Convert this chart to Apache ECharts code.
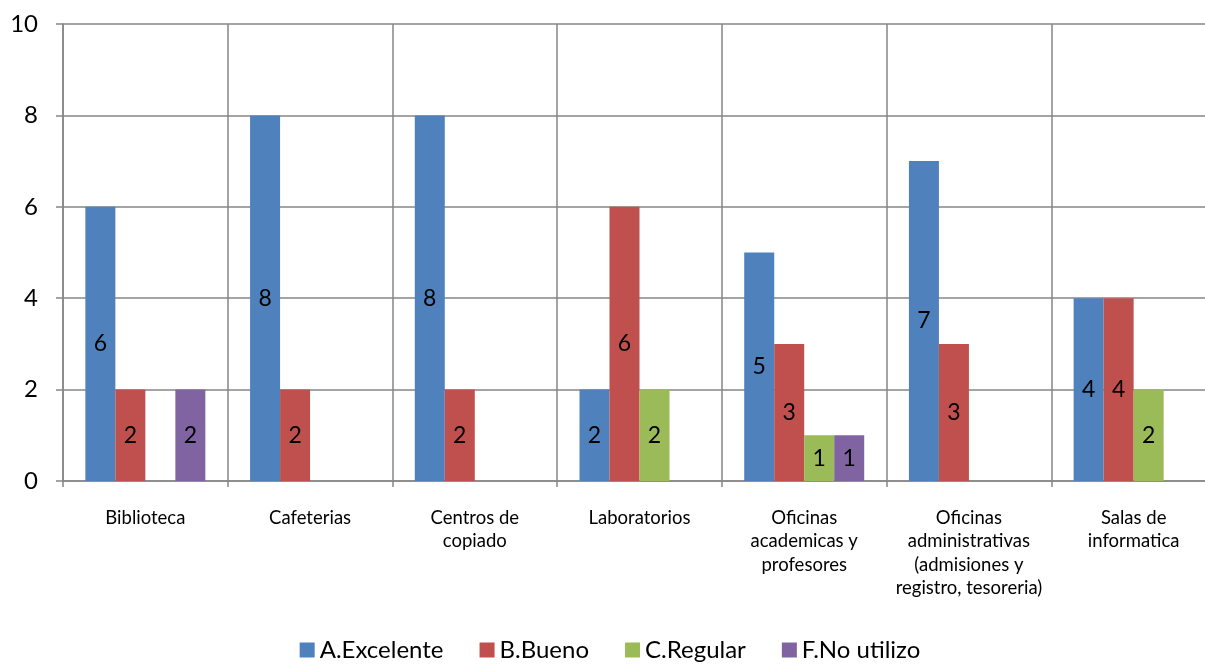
<!DOCTYPE html>
<html>
<head>
<meta charset="utf-8">
<script src="https://cdn.jsdelivr.net/npm/echarts@6/dist/echarts.min.js"></script>
<style>html,body{margin:0;padding:0;background:#fff;overflow:hidden;}#c{width:1220px;height:665px;}</style>
</head>
<body>
<div id="c"></div>
<script>
const categories = [
  "Biblioteca",
  "Cafeterias",
  "Centros de\ncopiado",
  "Laboratorios",
  "Oficinas\nacademicas y\nprofesores",
  "Oficinas\nadministrativas\n(admisiones y\nregistro, tesoreria)",
  "Salas de\ninformatica"
];
const seriesNames = ["A.Excelente", "B.Bueno", "C.Regular", "F.No utilizo"];
const excelente = [6, 8, 8, 2, 5, 7, 4];
const bueno = [2, 2, 2, 6, 3, 3, 4];
const regular = [0, 0, 0, 2, 1, 0, 2];
const noUtilizo = [2, 0, 0, 0, 1, 0, 0];
const yTicks = [0, 2, 4, 6, 8, 10];
const colors = ["#4F81BD", "#C0504D", "#9BBB59", "#8064A2"];

const font = "Lato, 'Liberation Sans', sans-serif";
const allData = [excelente, bueno, regular, noUtilizo];

const chart = echarts.init(document.getElementById('c'));
chart.setOption({
  animation: false,
  color: colors,
  textStyle: { fontFamily: font },
  grid: { left: 63, right: 4, top: 24, bottom: 184, containLabel: false },
  legend: {
    top: 633,
    left: 'center',
    icon: 'rect',
    itemWidth: 15,
    itemHeight: 15,
    itemGap: 36,
    textStyle: { fontSize: 24, color: '#000', fontFamily: font },
    data: seriesNames
  },
  xAxis: {
    type: 'category',
    data: categories,
    axisLine: { lineStyle: { color: '#868686', width: 1.5 } },
    axisTick: { show: true, length: 6, lineStyle: { color: '#868686', width: 1.5 } },
    splitLine: { show: true, lineStyle: { color: '#868686', width: 1.5 } },
    axisLabel: { color: '#000', fontSize: 18.5, lineHeight: 23.5, margin: 25, interval: 0, fontFamily: font }
  },
  yAxis: {
    type: 'value',
    min: yTicks[0],
    max: yTicks[yTicks.length - 1],
    interval: 2,
    axisLine: { show: true, lineStyle: { color: '#868686', width: 1.5 } },
    axisTick: { show: true, length: 7, lineStyle: { color: '#868686', width: 1.5 } },
    splitLine: { show: true, lineStyle: { color: '#868686', width: 1.5 } },
    axisLabel: { color: '#000', fontSize: 24, margin: 25, fontFamily: font }
  },
  series: seriesNames.map((name, i) => ({
    name: name,
    type: 'bar',
    data: allData[i],
    barWidth: 30,
    barGap: '0%',
    itemStyle: { color: colors[i] },
    label: {
      show: true,
      position: 'inside',
      color: '#000',
      fontSize: 23,
      fontFamily: font,
      formatter: p => (p.value ? String(p.value) : '')
    }
  }))
});
</script>
</body>
</html>
